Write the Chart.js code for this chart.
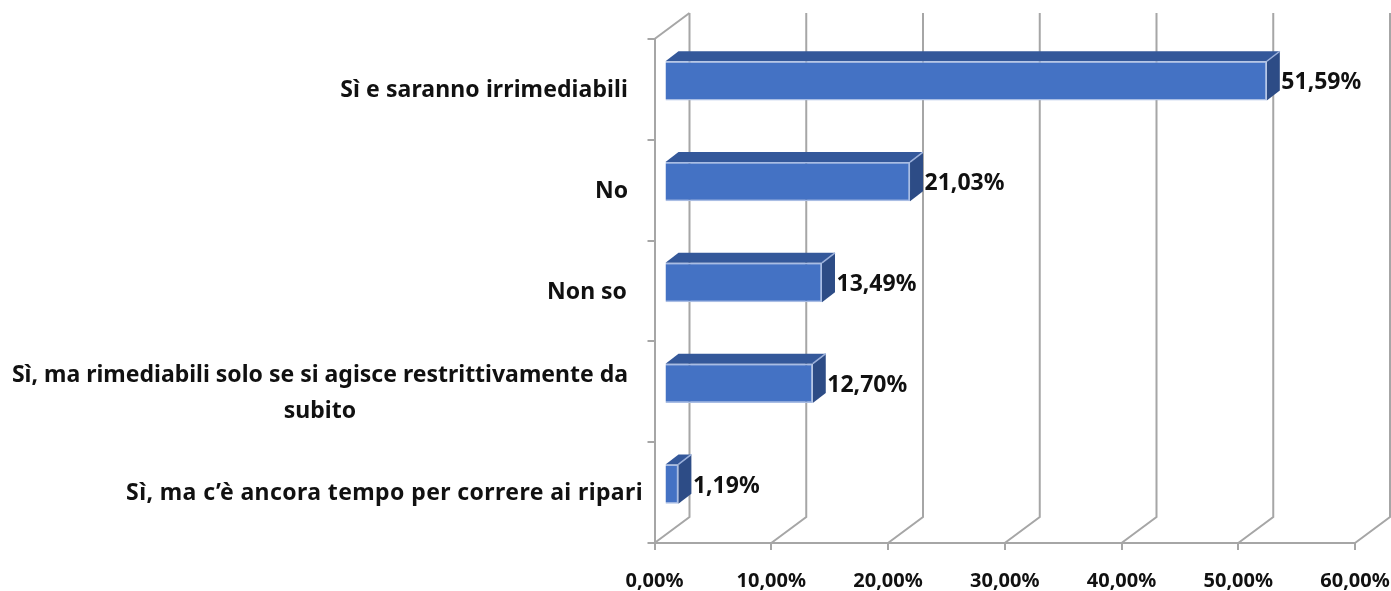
<!DOCTYPE html>
<html>
<head>
<meta charset="utf-8">
<title>Grafico</title>
<script src="https://cdn.jsdelivr.net/npm/chart.js"></script>
<style>
  html, body { margin: 0; padding: 0; background: #fff; }
  canvas { display: block; }
</style>
</head>
<body>
<canvas id="chart" width="1391" height="591"></canvas>
<script>
const categories = [
  "Sì e saranno irrimediabili",
  "No",
  "Non so",
  "Sì, ma rimediabili solo se si agisce restrittivamente da subito",
  "Sì, ma c’è ancora tempo per correre ai ripari"
];
const categoryLines = [
  ["Sì e saranno irrimediabili"],
  ["No"],
  ["Non so"],
  ["Sì, ma rimediabili solo se si agisce restrittivamente da", "subito"],
  ["Sì, ma c’è ancora tempo per correre ai ripari"]
];
const values = [51.59, 21.03, 13.49, 12.70, 1.19];
const valueLabels = ["51,59%", "21,03%", "13,49%", "12,70%", "1,19%"];
const xTickLabels = ["0,00%", "10,00%", "20,00%", "30,00%", "40,00%", "50,00%", "60,00%"];

const FONT = '"Noto Sans", sans-serif';
const GRID = "#a6a6a6";
// 3d look of the plot box and the bars
const wallDx = 35, wallDy = -26;
const barShiftX = 10, barShiftY = -8.5;
const barDx = 13, barDy = -10;
// right edge of the category text, the last label runs further out
const labelRight = [628, 628, 627, 628, 643];
const labelSpacing = ["0.1px", "0px", "0px", "0px", "0.4px"];

const walls = {
  id: "walls",
  beforeDatasetsDraw(chart) {
    const { ctx, scales: { x }, chartArea: a } = chart;
    ctx.save();
    ctx.strokeStyle = GRID;
    ctx.lineWidth = 2;
    x.ticks.forEach((t, i) => {
      const px = x.getPixelForTick(i);
      ctx.beginPath();
      ctx.moveTo(px, a.bottom);
      ctx.lineTo(px + wallDx, a.bottom + wallDy);
      ctx.lineTo(px + wallDx, a.top + wallDy);
      ctx.stroke();
    });
    ctx.beginPath();
    ctx.moveTo(a.left, a.top);
    ctx.lineTo(a.left + wallDx, a.top + wallDy);
    ctx.stroke();
    ctx.restore();
  }
};

const bars3d = {
  id: "bars3d",
  beforeDatasetDraw(chart) {
    const ctx = chart.ctx;
    ctx.save();
    ctx.translate(barShiftX, barShiftY);
    chart.getDatasetMeta(0).data.forEach(b => {
      const top = b.y - b.height / 2, bottom = b.y + b.height / 2;
      ctx.lineWidth = 1.5;
      ctx.strokeStyle = "#9db2dc";
      // top face
      ctx.fillStyle = "#34589a";
      ctx.beginPath();
      ctx.moveTo(b.base, top);
      ctx.lineTo(b.base + barDx, top + barDy);
      ctx.lineTo(b.x + barDx, top + barDy);
      ctx.lineTo(b.x, top);
      ctx.closePath();
      ctx.fill();
      // side face
      ctx.fillStyle = "#2d4c86";
      ctx.beginPath();
      ctx.moveTo(b.x, top);
      ctx.lineTo(b.x + barDx, top + barDy);
      ctx.lineTo(b.x + barDx, bottom + barDy);
      ctx.lineTo(b.x, bottom);
      ctx.closePath();
      ctx.fill();
      ctx.beginPath();
      ctx.moveTo(b.x, top);
      ctx.lineTo(b.x + barDx, top + barDy);
      ctx.stroke();
    });
  },
  afterDatasetDraw(chart) {
    chart.ctx.restore();
  }
};

const texts = {
  id: "texts",
  afterDraw(chart) {
    const { ctx, scales: { y } } = chart;
    ctx.save();
    ctx.fillStyle = "#111";
    ctx.font = "700 23px " + FONT;
    ctx.textBaseline = "middle";
    // category labels, wrapped ones are centred on their longest line
    categoryLines.forEach((lines, i) => {
      const cy = y.getPixelForTick(i) + (lines.length > 1 ? 2 : 1);
      ctx.letterSpacing = labelSpacing[i];
      const widest = Math.max(...lines.map(l => ctx.measureText(l).width));
      lines.forEach((line, j) => {
        ctx.textAlign = "center";
        ctx.fillText(line, labelRight[i] - widest / 2, cy + (j - (lines.length - 1) / 2) * 36);
      });
    });
    ctx.letterSpacing = "0px";
    // value labels next to the bar ends
    ctx.textAlign = "left";
    chart.getDatasetMeta(0).data.forEach((b, i) => {
      ctx.fillText(valueLabels[i], b.x + barShiftX + barDx + 1.5, b.y + barShiftY + 2);
    });
    ctx.restore();
  }
};

new Chart(document.getElementById("chart"), {
  type: "bar",
  data: {
    labels: categories,
    datasets: [{
      data: values,
      backgroundColor: "#4472c4",
      borderColor: "#a9bde4",
      borderWidth: 1.5,
      barPercentage: 0.39,
      categoryPercentage: 1
    }]
  },
  options: {
    indexAxis: "y",
    responsive: false,
    animation: false,
    layout: { padding: { top: 39, right: 36, left: 0, bottom: 0 } },
    plugins: { legend: { display: false }, tooltip: { enabled: false } },
    scales: {
      x: {
        min: 0,
        max: 60,
        afterFit(s) { s.height = 48; s.paddingRight = 0; s.paddingLeft = 0; },
        border: { color: GRID, width: 2 },
        grid: { drawOnChartArea: false, color: GRID, lineWidth: 2, tickLength: 7 },
        ticks: {
          stepSize: 10,
          maxRotation: 0,
          padding: 19,
          color: "#111",
          font: { family: FONT, size: 20, weight: "700" },
          callback: (v, i) => xTickLabels[i]
        }
      },
      y: {
        afterFit(s) { s.width = 654.5; },
        border: { color: GRID, width: 2 },
        grid: { drawOnChartArea: false, color: GRID, lineWidth: 2, tickLength: 7, offset: true },
        ticks: { display: false }
      }
    }
  },
  plugins: [walls, bars3d, texts]
});
</script>
</body>
</html>
